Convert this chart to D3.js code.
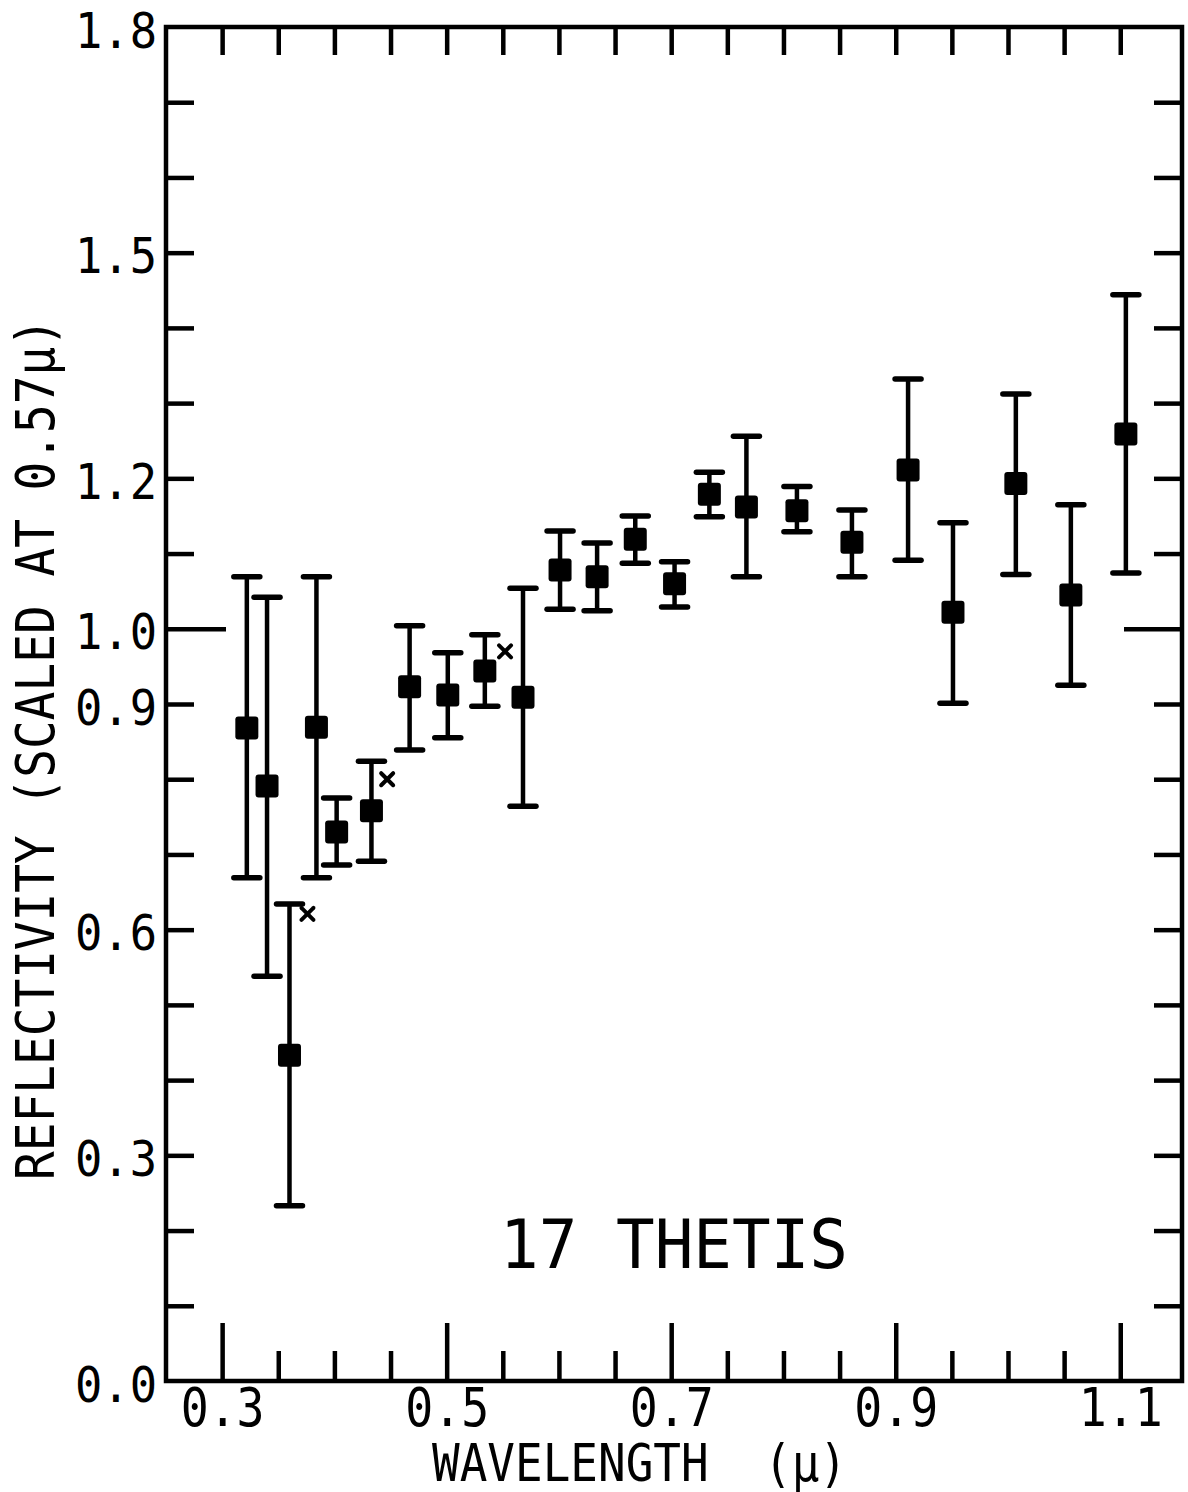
<!DOCTYPE html>
<html>
<head>
<meta charset="utf-8">
<script src="https://cdn.jsdelivr.net/npm/d3@7"></script>
<style>
  html, body { margin: 0; padding: 0; background: #fff; }
  svg { display: block; }
  text { font-family: "DejaVu Sans Mono", "Liberation Mono", monospace; fill: #000; white-space: pre; }
</style>
</head>
<body>
<svg id="chart" width="1188" height="1492"></svg>
<script>
// ---- data ----
const wavelengths = [0.322, 0.340, 0.360, 0.384, 0.402, 0.433, 0.467, 0.501, 0.534, 0.568, 0.601, 0.634, 0.668, 0.703, 0.734, 0.767, 0.812, 0.861, 0.911, 0.951, 1.007, 1.056, 1.105];
const reflectivity = [0.868, 0.791, 0.433, 0.869, 0.730, 0.758, 0.923, 0.912, 0.944, 0.909, 1.078, 1.069, 1.119, 1.060, 1.179, 1.162, 1.157, 1.115, 1.211, 1.022, 1.193, 1.045, 1.259];
const errorUpper = [1.069, 1.042, 0.634, 1.069, 0.775, 0.824, 1.004, 0.968, 0.992, 1.054, 1.130, 1.114, 1.150, 1.089, 1.208, 1.256, 1.189, 1.158, 1.332, 1.141, 1.312, 1.165, 1.444];
const errorLower = [0.669, 0.538, 0.233, 0.669, 0.686, 0.691, 0.839, 0.855, 0.897, 0.764, 1.026, 1.024, 1.087, 1.029, 1.149, 1.069, 1.129, 1.069, 1.091, 0.901, 1.072, 0.925, 1.074];

const crossWavelengths = [0.376, 0.447, 0.552];
const crossReflectivity = [0.621, 0.800, 0.970];

const xTickLabels = [0.3, 0.5, 0.7, 0.9, 1.1];
const yTickLabels = [0.0, 0.3, 0.6, 0.9, 1.0, 1.2, 1.5, 1.8];
const xMinorTicks = d3.range(0, 17).map(i => +(0.3 + i * 0.05).toFixed(2));
const yMinorTicks = d3.range(1, 18).map(i => +(i * 0.1).toFixed(1));

const yTitle = "REFLECTIVITY (SCALED AT 0.57\u03BC)";
const xTitle = "WAVELENGTH  (\u03BC)";
const annotation = "17 THETIS";

(function () {
// ---- layout ----
const svg = d3.select("#chart");
const pL = 166, pR = 1182, pT = 27, pB = 1381;
const x = d3.scaleLinear().domain([0.25, 1.155]).range([pL, pR]);
const y = d3.scaleLinear().domain([0, 1.8]).range([pB, pT]);
const SW = 4.5;

// frame
svg.append("rect")
  .attr("x", pL).attr("y", pT)
  .attr("width", pR - pL).attr("height", pB - pT)
  .attr("fill", "none").attr("stroke", "#000").attr("stroke-width", SW);

function styleAxis(g) {
  g.select(".domain").remove();
  g.selectAll(".tick line").attr("stroke", "#000").attr("stroke-width", SW);
}

// left ticks (inside)
svg.append("g").attr("transform", `translate(${pL},0)`)
  .call(d3.axisLeft(y).tickValues(yMinorTicks).tickSize(-28).tickFormat(""))
  .call(styleAxis)
  .selectAll(".tick line").attr("x2", d => Math.abs(d - 1.0) < 1e-9 ? 60 : 28);

// right ticks (inside)
svg.append("g").attr("transform", `translate(${pR},0)`)
  .call(d3.axisRight(y).tickValues(yMinorTicks).tickSize(-28).tickFormat(""))
  .call(styleAxis)
  .selectAll(".tick line").attr("x2", d => Math.abs(d - 1.0) < 1e-9 ? -58 : -28);

// top ticks (inside)
svg.append("g").attr("transform", `translate(0,${pT})`)
  .call(d3.axisTop(x).tickValues(xMinorTicks).tickSize(-28).tickFormat(""))
  .call(styleAxis);

// bottom ticks (inside), longer at labelled values
svg.append("g").attr("transform", `translate(0,${pB})`)
  .call(d3.axisBottom(x).tickValues(xMinorTicks).tickSize(-30).tickFormat(""))
  .call(styleAxis)
  .selectAll(".tick line")
  .attr("y2", d => xTickLabels.some(v => Math.abs(v - d) < 1e-9) ? -58 : -30);

// y tick labels
const yl = svg.append("g").attr("transform", `translate(${pL},0)`)
  .call(d3.axisLeft(y).tickValues(yTickLabels).tickSize(0).tickPadding(9).tickFormat(d3.format(".1f")));
yl.select(".domain").remove();
yl.selectAll("text").attr("font-size", 50).attr("font-family", "DejaVu Sans Mono").attr("fill", "#000")
  .attr("dy", "0.40em").attr("textLength", 82).attr("lengthAdjust", "spacingAndGlyphs");

// x tick labels
const xl = svg.append("g").attr("transform", `translate(0,${pB})`)
  .call(d3.axisBottom(x).tickValues(xTickLabels).tickSize(0).tickPadding(6).tickFormat(d3.format(".1f")));
xl.select(".domain").remove();
xl.selectAll("text").attr("font-size", 54).attr("font-family", "DejaVu Sans Mono").attr("fill", "#000")
  .attr("dy", "0.72em").attr("textLength", 84).attr("lengthAdjust", "spacingAndGlyphs");

// axis titles
svg.append("text")
  .attr("transform", `translate(54,749) rotate(-90)`)
  .attr("text-anchor", "middle")
  .attr("font-size", 54)
  .attr("textLength", 862).attr("lengthAdjust", "spacingAndGlyphs")
  .text(yTitle);

svg.append("text")
  .attr("x", 432).attr("y", 1481)
  .attr("font-size", 51)
  .attr("textLength", 415).attr("lengthAdjust", "spacingAndGlyphs")
  .text(xTitle);

svg.append("text")
  .attr("x", 500).attr("y", 1268)
  .attr("font-size", 68)
  .attr("textLength", 348).attr("lengthAdjust", "spacingAndGlyphs")
  .text(annotation);

// data
const data = wavelengths.map((w, i) => ({ w, r: reflectivity[i], lo: errorLower[i], hi: errorUpper[i] }));
const g = svg.append("g");
const capW = 13;

g.selectAll("line.bar").data(data).join("line").attr("class", "bar")
  .attr("x1", d => x(d.w)).attr("x2", d => x(d.w))
  .attr("y1", d => y(d.lo)).attr("y2", d => y(d.hi))
  .attr("stroke", "#000").attr("stroke-width", 4.5);

g.selectAll("line.capHi").data(data).join("line").attr("class", "capHi")
  .attr("x1", d => x(d.w) - capW).attr("x2", d => x(d.w) + capW)
  .attr("y1", d => y(d.hi)).attr("y2", d => y(d.hi))
  .attr("stroke", "#000").attr("stroke-width", 5.5).attr("stroke-linecap", "round");

g.selectAll("line.capLo").data(data).join("line").attr("class", "capLo")
  .attr("x1", d => x(d.w) - capW).attr("x2", d => x(d.w) + capW)
  .attr("y1", d => y(d.lo)).attr("y2", d => y(d.lo))
  .attr("stroke", "#000").attr("stroke-width", 5.5).attr("stroke-linecap", "round");

const ms = 23;
g.selectAll("rect.pt").data(data).join("rect").attr("class", "pt")
  .attr("x", d => x(d.w) - ms / 2).attr("y", d => y(d.r) - ms / 2)
  .attr("width", ms).attr("height", ms).attr("rx", 3)
  .attr("fill", "#000");

// small x markers
const crosses = crossWavelengths.map((w, i) => ({ w, r: crossReflectivity[i] }));
const cs = 6;
const cg = g.selectAll("g.cross").data(crosses).join("g").attr("class", "cross")
  .attr("transform", d => `translate(${x(d.w)},${y(d.r)})`);
cg.append("line").attr("x1", -cs).attr("y1", -cs).attr("x2", cs).attr("y2", cs)
  .attr("stroke", "#000").attr("stroke-width", 4).attr("stroke-linecap", "round");
cg.append("line").attr("x1", -cs).attr("y1", cs).attr("x2", cs).attr("y2", -cs)
  .attr("stroke", "#000").attr("stroke-width", 4).attr("stroke-linecap", "round");
})();
</script>
</body>
</html>
